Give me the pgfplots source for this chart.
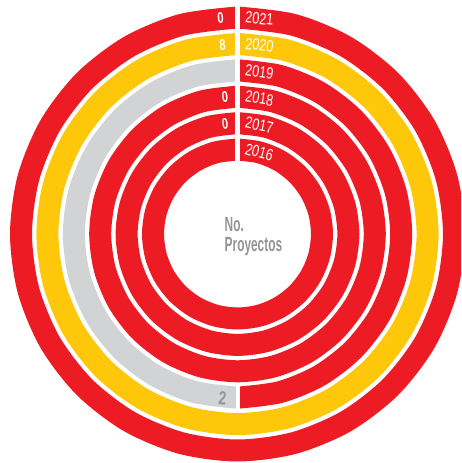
\documentclass[border=0pt]{standalone}
\usepackage{pgfplots}
\pgfplotsset{compat=1.18}
\usepackage{pgfplotstable}
\usepackage{fontspec}
\setmainfont{Liberation Sans}
\newfontfamily\yearfont[FakeStretch=0.78]{Liberation Sans}
\newfontfamily\numfont[FakeStretch=0.72]{Liberation Sans}
\newfontfamily\titlefont[FakeStretch=0.58]{Liberation Sans}

\definecolor{rred}{RGB}{237,28,36}
\definecolor{ryel}{RGB}{255,199,10}
\definecolor{rgry}{RGB}{209,211,212}
\definecolor{tgry}{RGB}{147,149,152}

\tikzset{
  yr/.style={text=white, font=\yearfont\fontsize{16.3}{18}\selectfont},
  val/.style={text=white, font=\numfont\bfseries\fontsize{15.4}{18}\selectfont},
  gval/.style={text=tgry, font=\numfont\bfseries\fontsize{19}{20}\selectfont},
}

% ring paths: angle (deg), ring radius per year
\pgfplotstableread{
a r16 r17 r18 r19 r20 r21
90 84.5 110.9 137.3 163.7 190.1 216.5
75 84.5 110.9 137.3 163.7 190.1 216.5
60 84.5 110.9 137.3 163.7 190.1 216.5
45 84.5 110.9 137.3 163.7 190.1 216.5
30 84.5 110.9 137.3 163.7 190.1 216.5
15 84.5 110.9 137.3 163.7 190.1 216.5
0 84.5 110.9 137.3 163.7 190.1 216.5
-15 84.5 110.9 137.3 163.7 190.1 216.5
-30 84.5 110.9 137.3 163.7 190.1 216.5
-45 84.5 110.9 137.3 163.7 190.1 216.5
-60 84.5 110.9 137.3 163.7 190.1 216.5
-75 84.5 110.9 137.3 163.7 190.1 216.5
-90 84.5 110.9 137.3 163.7 190.1 216.5
-105 84.5 110.9 137.3 163.7 190.1 216.5
-120 84.5 110.9 137.3 163.7 190.1 216.5
-135 84.5 110.9 137.3 163.7 190.1 216.5
-150 84.5 110.9 137.3 163.7 190.1 216.5
-165 84.5 110.9 137.3 163.7 190.1 216.5
-180 84.5 110.9 137.3 163.7 190.1 216.5
-195 84.5 110.9 137.3 163.7 190.1 216.5
-210 84.5 110.9 137.3 163.7 190.1 216.5
-225 84.5 110.9 137.3 163.7 190.1 216.5
-240 84.5 110.9 137.3 163.7 190.1 216.5
-255 84.5 110.9 137.3 163.7 190.1 216.5
-270 84.5 110.9 137.3 163.7 190.1 216.5
}\rings

% one label: angle, radius, rotation, text, style
\newcommand{\lab}[5]{%
  \addplot[data cs=polar, draw=none, mark=none, nodes near coords,
    point meta=explicit symbolic,
    every node near coord/.append style={anchor=center, rotate=#3, inner sep=0pt, #5}]
    coordinates {(#1,#2) [#4]};}

\begin{document}
\begin{tikzpicture}
\begin{axis}[
  width=461pt, height=463pt, scale only axis,
  xmin=-237.5, xmax=223.5, ymin=-229, ymax=234,
  hide axis,
  ring/.style={data cs=polar, smooth, mark=none, line width=22pt},
]
\addplot[ring, rred] table[x=a, y=r16] {\rings};
\addplot[ring, rred] table[x=a, y=r17] {\rings};
\addplot[ring, rred] table[x=a, y=r18] {\rings};
\addplot[ring, rred, skip coords between index={13}{25}] table[x=a, y=r19] {\rings};
\addplot[ring, rgry, skip coords between index={0}{12}] table[x=a, y=r19] {\rings};
\addplot[ring, ryel] table[x=a, y=r20] {\rings};
\addplot[ring, rred] table[x=a, y=r21] {\rings};

% separators
\addplot[white, line width=5pt] coordinates {(0,60) (0,234)};
\addplot[white, line width=4pt] coordinates {(0,-150) (0,-178)};

% years
\lab{75.08}{84.5}{-14.9}{2016}{yr}
\lab{78.63}{110.9}{-11.4}{2017}{yr}
\lab{80.82}{137.3}{-9.2}{2018}{yr}
\lab{82.30}{163.7}{-7.7}{2019}{yr}
\lab{83.37}{190.1}{-6.6}{2020}{yr}
\lab{84.18}{216.5}{-5.8}{2021}{yr}
% values
\lab{94.50}{216.5}{4.5}{0}{val}
\lab{94.52}{190.1}{4.5}{8}{val}
\lab{95.22}{137.3}{5.2}{0}{val}
\lab{96.46}{110.9}{6.5}{0}{val}
\lab{-95.25}{165}{-5.2}{2}{gval}

\node[anchor=base west, text=tgry, font=\titlefont\bfseries\fontsize{20.5}{24}\selectfont, inner sep=0pt] at (axis cs:-13,2) {No.};
\node[anchor=base west, text=tgry, font=\titlefont\bfseries\fontsize{20.5}{24}\selectfont, inner sep=0pt] at (axis cs:-13,-18) {Proyectos};
\end{axis}
\pgfresetboundingbox
\path[use as bounding box] (current axis.south west) rectangle (current axis.north east);
\end{tikzpicture}
\end{document}
